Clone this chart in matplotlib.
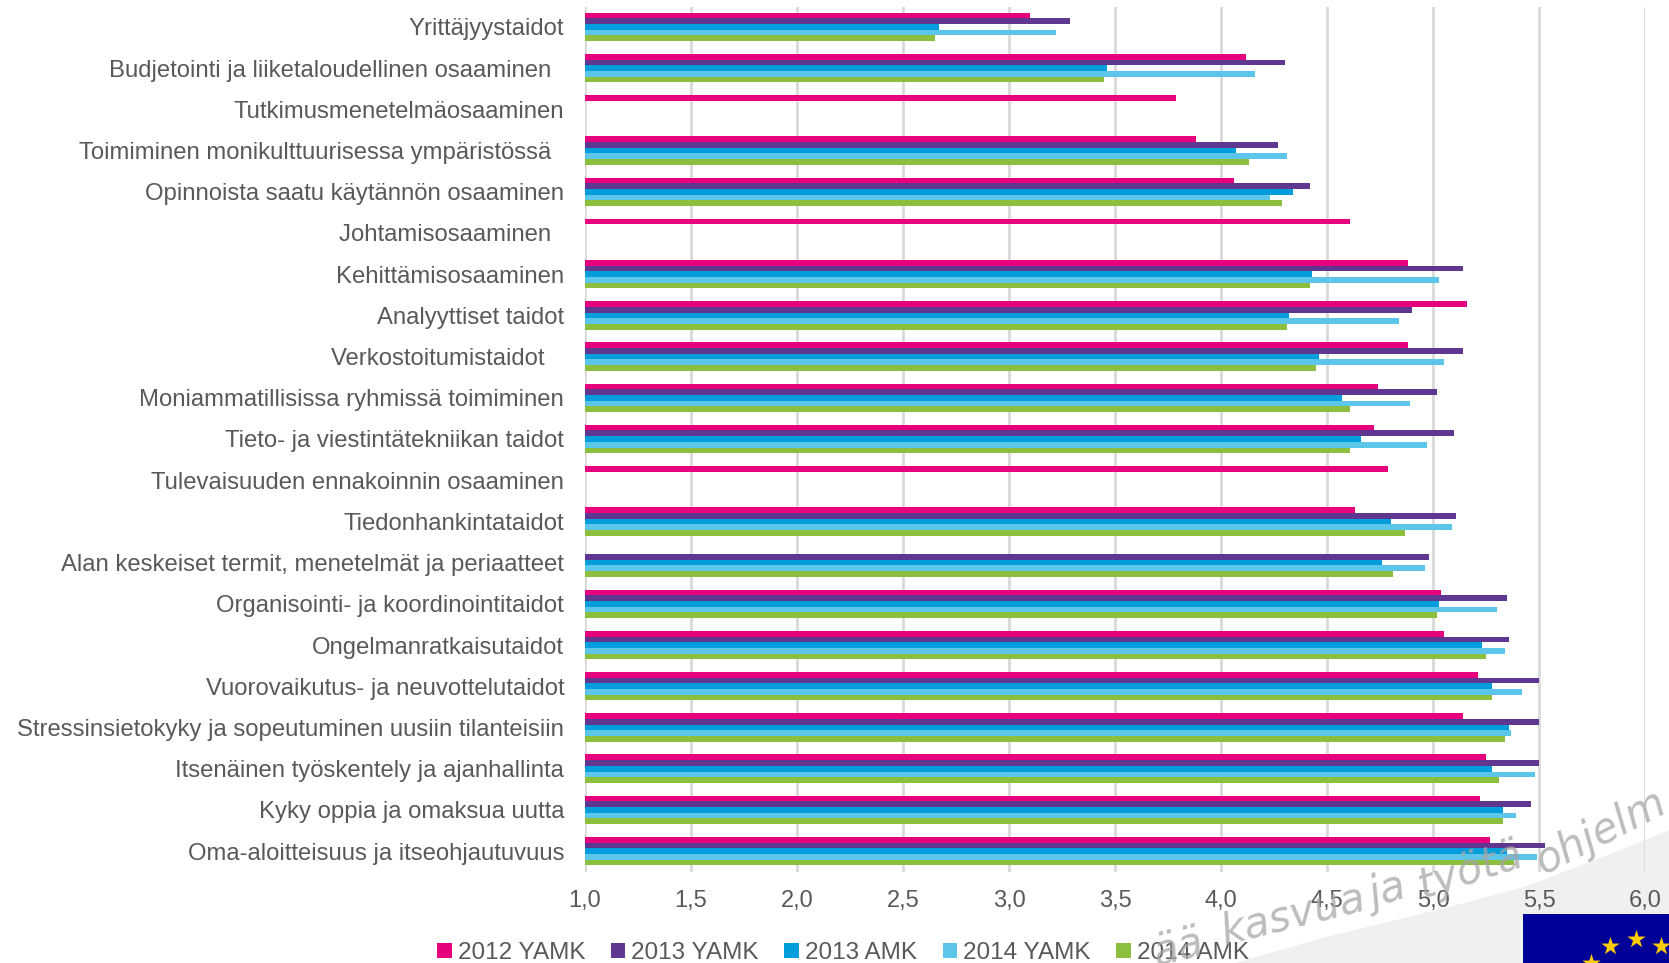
import numpy as np
import matplotlib
matplotlib.use("Agg")
import matplotlib.pyplot as plt
from matplotlib.patches import Polygon, Rectangle

plt.rcParams['font.family'] = ['Liberation Sans', 'DejaVu Sans']

categories = ["Yrittäjyystaidot", "Budjetointi ja liiketaloudellinen osaaminen  ",
              "Tutkimusmenetelmäosaaminen", "Toimiminen monikulttuurisessa ympäristössä  ",
              "Opinnoista saatu käytännön osaaminen", "Johtamisosaaminen  ",
              "Kehittämisosaaminen", "Analyyttiset taidot", "Verkostoitumistaidot   ",
              "Moniammatillisissa ryhmissä toimiminen", "Tieto- ja viestintätekniikan taidot",
              "Tulevaisuuden ennakoinnin osaaminen", "Tiedonhankintataidot",
              "Alan keskeiset termit, menetelmät ja periaatteet",
              "Organisointi- ja koordinointitaidot", "Ongelmanratkaisutaidot",
              "Vuorovaikutus- ja neuvottelutaidot",
              "Stressinsietokyky ja sopeutuminen uusiin tilanteisiin",
              "Itsenäinen työskentely ja ajanhallinta", "Kyky oppia ja omaksua uutta",
              "Oma-aloitteisuus ja itseohjautuvuus"]

yamk_2012 = [3.10, 4.12, 3.79, 3.88, 4.06, 4.61, 4.88, 5.16, 4.88, 4.74, 4.72,
             4.79, 4.63, np.nan, 5.04, 5.05, 5.21, 5.14, 5.25, 5.22, 5.27]
yamk_2013 = [3.29, 4.30, np.nan, 4.27, 4.42, np.nan, 5.14, 4.90, 5.14, 5.02, 5.10,
             np.nan, 5.11, 4.98, 5.35, 5.36, 5.50, 5.50, 5.50, 5.46, 5.53]
amk_2013 = [2.67, 3.46, np.nan, 4.07, 4.34, np.nan, 4.43, 4.32, 4.46, 4.57, 4.66,
            np.nan, 4.80, 4.76, 5.03, 5.23, 5.28, 5.36, 5.28, 5.33, 5.35]
yamk_2014 = [3.22, 4.16, np.nan, 4.31, 4.23, np.nan, 5.03, 4.84, 5.05, 4.89, 4.97,
             np.nan, 5.09, 4.96, 5.30, 5.34, 5.42, 5.37, 5.48, 5.39, 5.49]
amk_2014 = [2.65, 3.45, np.nan, 4.13, 4.29, np.nan, 4.42, 4.31, 4.45, 4.61, 4.61,
            np.nan, 4.87, 4.81, 5.02, 5.25, 5.28, 5.34, 5.31, 5.33, 5.38]

series = [yamk_2012, yamk_2013, amk_2013, yamk_2014, amk_2014]
names = ["2012 YAMK", "2013 YAMK", "2013 AMK", "2014 YAMK", "2014 AMK"]
colors = ["#E6007E", "#5F3690", "#009DDC", "#5BC5EA", "#8DBF3F"]
xticks = [1.0, 1.5, 2.0, 2.5, 3.0, 3.5, 4.0, 4.5, 5.0, 5.5, 6.0]

W, H = 1669, 963
fig = plt.figure(figsize=(W / 100, H / 100), dpi=100)
bg = fig.add_axes([0, 0, 1, 1], zorder=0)
bg.set_xlim(0, W)
bg.set_ylim(H, 0)
bg.axis("off")

# grey swoosh behind the chart, in the corner
sx = [1235, 1326, 1445, 1524, 1603, 1669]
sy = [963, 937, 908, 887, 857, 830]
bg.add_patch(Polygon(list(zip(sx, sy)) + [(1669, 963)], color="#F0F0F0", lw=0))

ax = fig.add_axes([585 / W, 1 - 871.7 / H, (1645 - 585) / W, (871.7 - 6.7) / H], zorder=1)
ax.patch.set_alpha(0)
y = np.arange(len(categories))
h = 0.138
for i, (vals, c) in enumerate(zip(series, colors)):
    ax.barh(y + (i - 2) * h, np.array(vals) - 1.0, left=1.0, height=h, color=c, label=names[i], zorder=3)
ax.set_xlim(1, 6)
ax.set_ylim(20.5, -0.49)
ax.set_xticks(xticks)
ax.set_xticklabels([f"{t:.1f}".replace(".", ",") for t in xticks], fontsize=17, color="#595959")
ax.set_yticks(y)
ax.set_yticklabels(categories, fontsize=17.2, color="#595959")
ax.grid(axis="x", color="#D9D9D9", lw=2, zorder=0)
ax.tick_params(length=0)
ax.tick_params(axis="y", pad=15)
ax.tick_params(axis="x", pad=13)
for s in ax.spines.values():
    s.set_visible(False)

leg = ax.legend(loc="lower left", bbox_to_anchor=(437 / W, -1 / H), bbox_transform=fig.transFigure, ncol=5,
                frameon=False, fontsize=17.5, labelcolor="#595959", handlelength=0.6, handleheight=0.6,
                handletextpad=0.25, columnspacing=1.05, borderaxespad=0, borderpad=0)

# watermark text along the swoosh
top = fig.add_axes([0, 0, 1, 1], zorder=2)
top.set_xlim(0, W)
top.set_ylim(H, 0)
top.axis("off")
wm = [("ää", 1178, 948, 14), ("kasvua", 1293, 915, 14), ("ja", 1388, 892, 16),
      ("työtä", 1470, 870, 18), ("ohjelm", 1600, 832, 27)]
for t, px, py, rot in wm:
    top.text(px, py, t, fontsize=30, fontstyle="oblique", color="#A6A6A6", alpha=0.75,
             rotation=rot, ha="center", va="center", family="DejaVu Sans", rotation_mode="anchor")

# EU flag corner
top.add_patch(Rectangle((1523, 914), 146, 49, color="#000099", lw=0))
top.scatter([1610, 1636, 1661, 1591], [946, 939, 946, 963], marker="*", s=190, color="#FFCC00", lw=0)

fig.savefig("out.png", dpi=100)
